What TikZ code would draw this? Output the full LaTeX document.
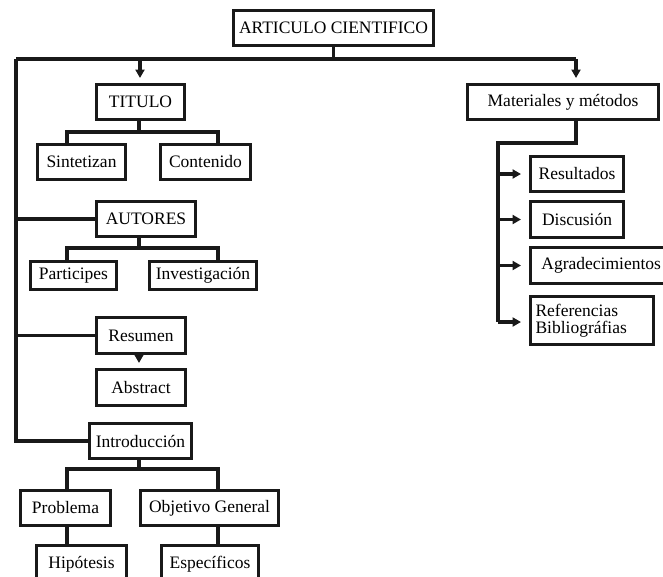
\documentclass[tikz,border=0pt]{standalone}
\usepackage{fontspec}
\setmainfont{Liberation Serif}
\usetikzlibrary{arrows.meta,calc}
\begin{document}
\begin{tikzpicture}[x=1pt,y=-1pt,
  box/.style={draw=black!90,line width=3pt,inner sep=0pt,anchor=north west,
    font=\fontsize{17.5}{16.5}\selectfont,fill=white},
  ln/.style={line width=3.2pt,black!90},
  arr/.style={ln,-{Triangle[length=8.5pt,width=9pt]}}]
\useasboundingbox (0,0) rectangle (663,576);
\clip (0,0) rectangle (663,576);
\newcommand{\bx}[6]{\node[box,minimum width=#4-#2,minimum height=#5-#3] (#1) at (#2,#3) {#6};}
\bx{art}{232}{9}{432}{44}{ARTICULO CIENTIFICO}
\bx{titulo}{95}{83}{183}{118}{TITULO}
\bx{sint}{36}{143}{124}{178}{Sintetizan}
\bx{cont}{159}{143}{249}{178}{Contenido}
\bx{autores}{95}{200}{194}{235}{AUTORES}
\bx{part}{29}{260}{115}{288}{Participes}
\bx{inv}{148}{260}{255}{288}{Investigación}
\bx{resumen}{95}{316}{184}{352}{Resumen}
\bx{abstract}{95}{368}{184}{404}{Abstract}
\bx{intro}{88}{422}{190}{457}{Introducción}
\bx{prob}{19}{489}{109}{524}{Problema}
\bx{obj}{139}{489}{277}{524}{Objetivo General}
\bx{hip}{35}{544}{125}{592}{\raisebox{14pt}{Hipótesis}}
\bx{esp}{160}{544}{257}{592}{\raisebox{14pt}{Específicos}}
\bx{mat}{466}{83}{657}{118}{Materiales y métodos}
\bx{res}{529}{155}{622}{190}{Resultados}
\bx{disc}{529}{200}{622}{236}{Discusión}
\bx{agr}{529}{246}{666}{282}{~Agradecimientos}
\node[box,minimum width=123pt,minimum height=48pt,align=left,text width=113pt] (ref) at (529,295) {Referencias\\Bibliográfias};
% top connectors
\coordinate (hub) at (art.south |- 0,59);
\coordinate (lft) at (16,59);
\coordinate (rgt) at (576,59);
\draw[ln] (art.south) -- (hub);
\draw[ln] (lft) -- (rgt);
\draw[arr,shorten >=5pt] (140,59) -- (140,0 |- titulo.north);
\draw[arr,shorten >=5pt] (rgt) -- (rgt |- mat.north);
% left spine
\draw[ln] (lft) |- (intro.west);
\draw[ln] (16,0 |- autores.west) -- (autores.west);
\draw[ln] (16,0 |- resumen.west) -- (resumen.west);
% titulo children
\draw[ln] (139,0 |- titulo.south) -- (139,132);
\draw[ln] (67,0 |- sint.north) |- (218,132) -- (218,0 |- cont.north);
% autores children
\draw[ln] (139,0 |- autores.south) -- (139,248);
\draw[ln] (67,0 |- part.north) |- (218,248) -- (218,0 |- inv.north);
% resumen -> abstract
\draw[arr,shorten >=5pt] (139,0 |- resumen.south) -- (139,0 |- abstract.north);
% intro children
\draw[ln] (139,0 |- intro.south) -- (139,469);
\draw[ln] (67,0 |- prob.north) |- (218,469) -- (218,0 |- obj.north);
\draw[ln] (67,0 |- prob.south) -- (67,0 |- hip.north);
\draw[ln] (218,0 |- obj.south) -- (218,0 |- esp.north);
% materiales children
\draw[ln] (576,0 |- mat.south) |- (498,143) -- (498,322);
\draw[arr,shorten >=8pt] (498,0 |- res.west) -- (res.west);
\draw[arr,shorten >=8pt] (498,0 |- disc.west) -- (disc.west);
\draw[arr,shorten >=8pt] (498,0 |- agr.west) -- (agr.west);
\draw[arr,shorten >=8pt] (498,322) -- (ref.west |- 0,322);
\end{tikzpicture}
\end{document}
